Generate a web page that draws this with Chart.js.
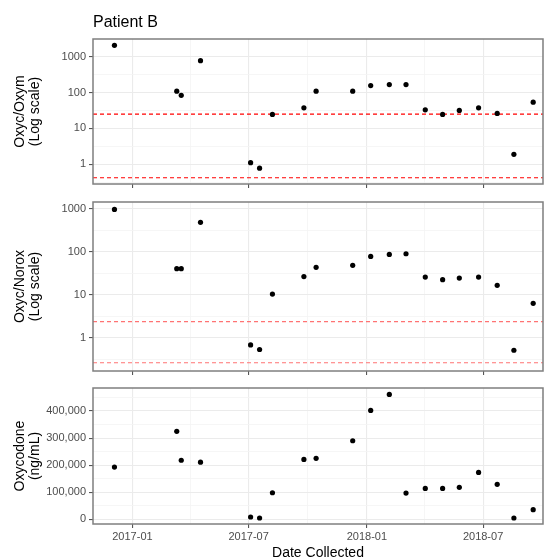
<!DOCTYPE html>
<html>
<head>
<meta charset="utf-8">
<script src="https://cdn.jsdelivr.net/npm/chart.js@4/dist/chart.umd.min.js"></script>
<style>
  body { margin: 0; background: #fff; }
  #wrap { position: relative; width: 547px; height: 559px; }
  #wrap canvas { position: absolute; left: 0; top: 0; }
  #title { position: absolute; left: 93px; top: 13px; font: 16px Arial, "Liberation Sans", sans-serif; color: #000; }
</style>
</head>
<body>
<div id="wrap">
  <canvas id="oxym-chart" width="547" height="559"></canvas>
  <canvas id="norox-chart" width="547" height="559"></canvas>
  <canvas id="oxyc-chart" width="547" height="559"></canvas>
  <div id="title">Patient B</div>
</div>
<script>
// Sample dates
const dates = ['2016-12-04', '2017-03-11', '2017-03-18', '2017-04-17', '2017-07-04', '2017-07-18',
  '2017-08-07', '2017-09-25', '2017-10-14', '2017-12-10', '2018-01-07', '2018-02-05', '2018-03-03',
  '2018-04-02', '2018-04-29', '2018-05-25', '2018-06-24', '2018-07-23', '2018-08-18', '2018-09-17'];

// Values per panel
const oxymRatio = [2080, 109, 84, 774, 1.11, 0.78, 24.5, 37.5, 109, 109, 157, 167, 167, 33, 24.5, 31.8, 37.5, 26.2, 1.9, 54];
const noroxRatio = [980, 41, 41, 490, 0.69, 0.54, 10.5, 26.8, 44, 49, 79, 88, 91, 26.2, 22.7, 24.8, 26.2, 16.8, 0.52, 6.4];
const oxycodone = [193000, 325000, 218000, 211000, 8500, 4800, 98000, 221000, 225000, 290000, 402000,
  461000, 97000, 114000, 114000, 118000, 173000, 129000, 4800, 35500];

// Dashed reference lines
const oxymRefs = [25, 0.42];
const noroxRefs = [2.4, 0.267];

// Axis breaks
const xBreaks = ['2016-07-01', '2017-01-01', '2017-07-01', '2018-01-01', '2018-07-01', '2019-01-01'];
const xLabels = { '2017-01-01': '2017-01', '2017-07-01': '2017-07', '2018-01-01': '2018-01', '2018-07-01': '2018-07' };
const logBreaks = [1, 10, 100, 1000];
const linBreaks = [0, 100000, 200000, 300000, 400000];

const FONT = 'Arial, "Liberation Sans", sans-serif';
const TICK_COLOR = '#4D4D4D';

function dayNum(s) {
  const p = s.split('-').map(Number);
  return (Date.UTC(p[0], p[1] - 1, p[2]) - Date.UTC(2017, 0, 1)) / 86400000;
}

const X_MIN = -61.4;
const X_MAX = 639.3;

// major x ticks + midpoints as minor
function buildXTicks() {
  const ticks = [];
  for (let i = 0; i < xBreaks.length; i++) {
    const d = dayNum(xBreaks[i]);
    if (d >= X_MIN && d <= X_MAX) ticks.push({ value: d, label: xLabels[xBreaks[i]] || '' });
    if (i < xBreaks.length - 1) {
      const m = (d + dayNum(xBreaks[i + 1])) / 2;
      if (m >= X_MIN && m <= X_MAX) ticks.push({ value: m, label: '', minor: true });
    }
  }
  return ticks.sort((a, b) => a.value - b.value);
}

function isMinor(ctx) {
  return ctx.tick && ctx.tick.minor;
}

const borderPlugin = {
  id: 'panelBorder',
  afterDraw(chart) {
    const a = chart.chartArea;
    const ctx = chart.ctx;
    ctx.save();
    ctx.strokeStyle = '#7F7F7F';
    ctx.lineWidth = 1.5;
    ctx.strokeRect(a.left, a.top, a.right - a.left, a.bottom - a.top);
    ctx.restore();
  }
};

function makePanel(id, opts) {
  const points = dates.map((d, i) => ({ x: dayNum(d), y: opts.values[i] }));
  const datasets = [{
    data: points,
    backgroundColor: '#000',
    borderColor: '#000',
    pointRadius: 2.6,
    pointBorderWidth: 0
  }];
  (opts.refs || []).forEach(r => {
    datasets.push({
      data: [{ x: X_MIN, y: r }, { x: X_MAX, y: r }],
      showLine: true,
      pointRadius: 0,
      borderColor: opts.refColor,
      borderWidth: 1.1,
      borderDash: [4, 3]
    });
  });

  return new Chart(document.getElementById(id), {
    type: 'scatter',
    data: { datasets: datasets },
    plugins: [borderPlugin],
    options: {
      responsive: false,
      animation: false,
      layout: { padding: { top: opts.top, right: 1, bottom: 0, left: 0 } },
      plugins: { legend: { display: false }, tooltip: { enabled: false } },
      scales: {
        x: {
          type: 'linear',
          min: X_MIN,
          max: X_MAX,
          afterBuildTicks: (scale) => { scale.ticks = buildXTicks(); },
          afterFit: (scale) => { scale.height = 559 - opts.bottom; },
          grid: {
            color: (c) => isMinor(c) ? '#F4F4F4' : '#EBEBEB',
            lineWidth: (c) => isMinor(c) ? 0.8 : 1.1,
            tickColor: (c) => isMinor(c) ? 'rgba(0,0,0,0)' : '#555',
            tickLength: 4,
            drawTicks: true
          },
          border: { display: false },
          ticks: {
            display: opts.xLabels,
            autoSkip: false,
            maxRotation: 0,
            padding: 2,
            color: TICK_COLOR,
            font: { family: FONT, size: 11 },
            callback: function (v, i, ticks) { return ticks[i].label; }
          },
          title: {
            display: opts.xLabels,
            text: 'Date Collected',
            color: '#000',
            font: { family: FONT, size: 14, lineHeight: 1.0 },
            padding: { top: 0, bottom: -1 }
          }
        },
        y: {
          type: opts.log ? 'logarithmic' : 'linear',
          min: opts.min,
          max: opts.max,
          afterBuildTicks: (scale) => { scale.ticks = opts.yTicks(); },
          afterFit: (scale) => { scale.width = 93; },
          grid: {
            color: (c) => isMinor(c) ? '#F4F4F4' : '#EBEBEB',
            lineWidth: (c) => isMinor(c) ? 0.8 : 1.1,
            tickColor: (c) => isMinor(c) ? 'rgba(0,0,0,0)' : '#555',
            tickLength: 4
          },
          border: { display: false },
          ticks: {
            autoSkip: false,
            padding: 3,
            color: TICK_COLOR,
            font: { family: FONT, size: 11 },
            callback: function (v, i, ticks) { return ticks[i].label; }
          },
          title: {
            display: true,
            text: opts.yTitle,
            color: '#000',
            font: { family: FONT, size: 14, lineHeight: 1.07 },
            padding: { top: 12.5, bottom: 0 }
          }
        }
      }
    }
  });
}

function logTicks(lo, hi) {
  return function () {
    const ticks = logBreaks.map(v => ({ value: v, label: String(v) }));
    [-0.5, 0.5, 1.5, 2.5, 3.5].forEach(e => {
      const v = Math.pow(10, e);
      if (v >= lo && v <= hi) ticks.push({ value: v, label: '', minor: true });
    });
    return ticks.sort((a, b) => a.value - b.value);
  };
}

function linTicks(lo, hi) {
  return function () {
    const ticks = linBreaks.map(v => ({ value: v, label: v.toLocaleString('en-US') }));
    for (let i = 0; i < linBreaks.length; i++) {
      const m = linBreaks[i] + 50000;
      if (m >= lo && m <= hi) ticks.push({ value: m, label: '', minor: true });
    }
    return ticks.sort((a, b) => a.value - b.value);
  };
}

const oxymMin = Math.pow(10, -0.549), oxymMax = Math.pow(10, 3.493);
makePanel('oxym-chart', {
  values: oxymRatio, refs: oxymRefs, refColor: '#FF0000',
  log: true, min: oxymMin, max: oxymMax, yTicks: logTicks(oxymMin, oxymMax),
  yTitle: ['Oxyc/Oxym', '(Log scale)'], top: 39, bottom: 184, xLabels: false
});

const noroxMin = Math.pow(10, -0.767), noroxMax = Math.pow(10, 3.163);
makePanel('norox-chart', {
  values: noroxRatio, refs: noroxRefs, refColor: '#FF7373',
  log: true, min: noroxMin, max: noroxMax, yTicks: logTicks(noroxMin, noroxMax),
  yTitle: ['Oxyc/Norox', '(Log scale)'], top: 202, bottom: 371, xLabels: false
});

makePanel('oxyc-chart', {
  values: oxycodone, refs: [],
  log: false, min: -17400, max: 484900, yTicks: linTicks(-17400, 484900),
  yTitle: ['Oxycodone', '(ng/mL)'], top: 388, bottom: 524, xLabels: true
});
</script>
</body>
</html>
